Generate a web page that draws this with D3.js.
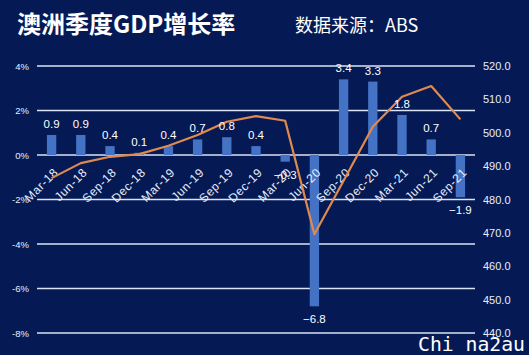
<!DOCTYPE html>
<html><head><meta charset="utf-8">
<script src="https://cdn.jsdelivr.net/npm/d3@7"></script>
<style>
html,body{margin:0;padding:0;background:#051a55;}
svg{display:block;}
</style></head>
<body>
<script>
const categories = ["Mar-18","Jun-18","Sep-18","Dec-18","Mar-19","Jun-19","Sep-19","Dec-19","Mar-20","Jun-20","Sep-20","Dec-20","Mar-21","Jun-21","Sep-21"];
const growth = [0.9,0.9,0.4,0.1,0.4,0.7,0.8,0.4,-0.3,-6.8,3.4,3.3,1.8,0.7,-1.9];
const gdpLevel = [486.4,490.9,492.8,493.6,496.1,499.3,503.3,505.0,503.6,469.6,485.6,501.8,510.8,514.0,504.0];
const leftTicks = [4,2,0,-2,-4,-6,-8];
const rightTicks = [520,510,500,490,480,470,460,450,440];

const W = 529, H = 355;
const svg = d3.select("body").append("svg").attr("width", W).attr("height", H);
svg.append("rect").attr("width", W).attr("height", H).attr("fill", "#051a55");

const x0 = 37, x1 = 475, yTop = 66, yBot = 333;
const x = d3.scaleBand().domain(categories).range([x0, x1]).paddingInner(0.68).paddingOuter(0.34);
const yL = d3.scaleLinear().domain([-8, 4]).range([yBot, yTop]);
const yR = d3.scaleLinear().domain([440, 520]).range([yBot, yTop]);

// title
svg.append("text").attr("x", 17).attr("y", 33).text("澳洲季度GDP增长率")
  .attr("fill", "#ffffff").attr("font-size", 24).attr("font-weight", "bold")
  .attr("font-family", "'Noto Sans CJK SC', sans-serif");
svg.append("text").attr("x", 295).attr("y", 32).text("数据来源：ABS")
  .attr("fill", "#ffffff").attr("font-size", 18)
  .attr("font-family", "'Noto Sans CJK SC', sans-serif");

// gridlines
svg.append("g").selectAll("line").data(leftTicks).join("line")
  .attr("x1", x0).attr("x2", x1).attr("y1", d => yL(d)).attr("y2", d => yL(d))
  .attr("stroke", "#dbe4f5").attr("stroke-width", 1.3);

// left axis
const axL = d3.axisLeft(yL).tickValues(leftTicks).tickSize(0).tickPadding(8).tickFormat(d => d + "%");
const gL = svg.append("g").attr("transform", `translate(${x0},0)`).call(axL);
gL.select(".domain").remove();
gL.selectAll("text").attr("fill", "#e8eefa").attr("font-size", 9.5).attr("font-family", "Arial, 'Liberation Sans', sans-serif");

// right axis
const axR = d3.axisRight(yR).tickValues(rightTicks).tickSize(0).tickPadding(8).tickFormat(d3.format(".1f"));
const gR = svg.append("g").attr("transform", `translate(${x1},0)`).call(axR);
gR.select(".domain").remove();
gR.selectAll("text").attr("fill", "#e8eefa").attr("font-size", 11).attr("font-family", "Arial, 'Liberation Sans', sans-serif");

// bars
svg.append("g").selectAll("rect").data(categories).join("rect")
  .attr("x", d => x(d)).attr("width", x.bandwidth())
  .attr("y", (d,i) => yL(Math.max(0, growth[i])))
  .attr("height", (d,i) => Math.abs(yL(growth[i]) - yL(0)))
  .attr("fill", "#4472c4");

// x labels
svg.append("g").selectAll("text").data(categories).join("text")
  .attr("transform", d => `translate(${x(d) + x.bandwidth()/2 + 1},${yL(0) + 12}) rotate(-45)`)
  .attr("text-anchor", "end").attr("dominant-baseline", "hanging")
  .attr("fill", "#e8eefa").attr("font-size", 12).attr("letter-spacing", 0.6)
  .attr("font-family", "Arial, 'Liberation Sans', sans-serif")
  .text(d => d);

// line
const line = d3.line().x((d,i) => x(categories[i]) + x.bandwidth()/2).y(d => yR(d));
svg.append("path").datum(gdpLevel).attr("d", line)
  .attr("fill", "none").attr("stroke", "#e08a50").attr("stroke-width", 2.2)
  .attr("stroke-linejoin", "round");

// data labels
svg.append("g").selectAll("text").data(categories).join("text")
  .attr("x", d => x(d) + x.bandwidth()/2)
  .attr("y", (d,i) => growth[i] >= 0 ? yL(growth[i]) - 7 : yL(growth[i]) + 17)
  .attr("text-anchor", "middle").attr("fill", "#ffffff").attr("font-size", 11.5)
  .attr("font-family", "Arial, 'Liberation Sans', sans-serif")
  .text((d,i) => d3.format(".1f")(growth[i]));

// watermark
svg.append("text").attr("x", 418).attr("y", 351).text("Chi na2au")
  .attr("fill", "#ffffff").attr("font-size", 20)
  .attr("textLength", 107).attr("lengthAdjust", "spacingAndGlyphs")
  .attr("font-family", "'DejaVu Sans Mono', monospace");
</script>
</body></html>
